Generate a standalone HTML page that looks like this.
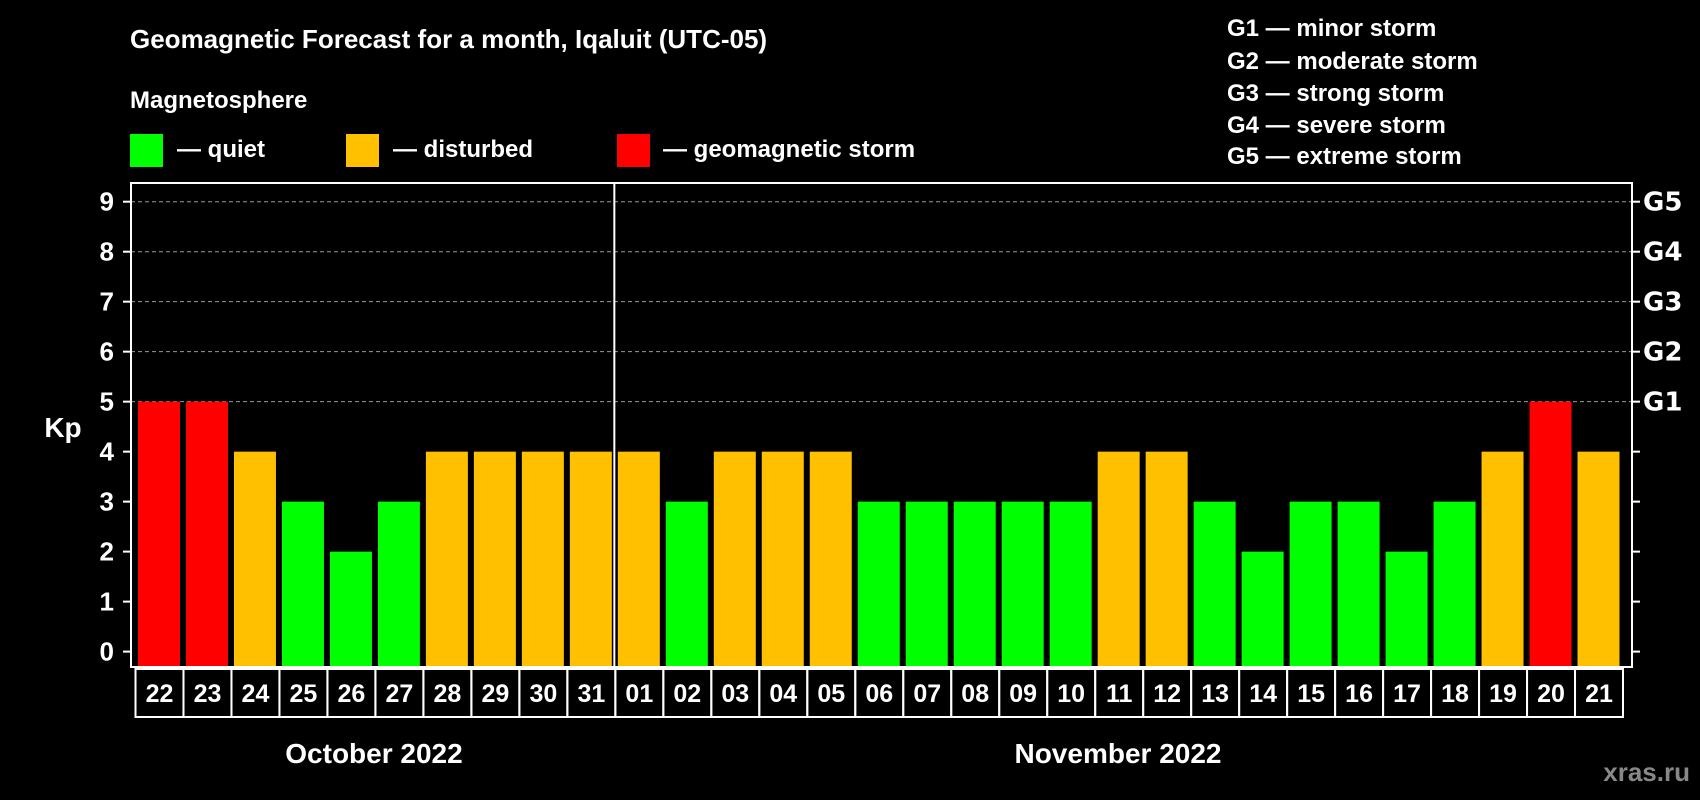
<!DOCTYPE html>
<html><head><meta charset="utf-8"><style>
html,body{margin:0;padding:0;background:#000;}
svg{display:block;font-family:"Liberation Sans",sans-serif;font-weight:bold;}
</style></head><body>
<svg id="chart" width="1700" height="800" viewBox="0 0 1700 800" xmlns="http://www.w3.org/2000/svg">
<rect width="1700" height="800" fill="#000"/>
<text x="130" y="48" fill="#fff" font-size="26">Geomagnetic Forecast for a month, Iqaluit (UTC-05)</text>
<text x="130" y="108" fill="#fff" font-size="24">Magnetosphere</text>
<g><rect x="130" y="134" width="33" height="33" fill="#00ff00"/><text x="177" y="157" fill="#fff" font-size="24">— quiet</text></g>
<g><rect x="346" y="134" width="33" height="33" fill="#ffc000"/><text x="393" y="157" fill="#fff" font-size="24">— disturbed</text></g>
<g><rect x="617" y="134" width="33" height="33" fill="#ff0000"/><text x="663" y="157" fill="#fff" font-size="24">— geomagnetic storm</text></g>
<g fill="#fff" font-size="24">
<text x="1227" y="36">G1 — minor storm</text>
<text x="1227" y="69">G2 — moderate storm</text>
<text x="1227" y="101">G3 — strong storm</text>
<text x="1227" y="133">G4 — severe storm</text>
<text x="1227" y="164">G5 — extreme storm</text>
</g>
<text x="63" y="437" fill="#fff" font-size="28" text-anchor="middle">Kp</text>
<g id="grid"></g><g id="bars"></g><g id="axes"></g><g id="xlabels"></g>
<text x="374" y="763" fill="#fff" font-size="28" text-anchor="middle">October 2022</text>
<text x="1118" y="763" fill="#fff" font-size="28" text-anchor="middle">November 2022</text>
<text x="1690" y="781" fill="#888" font-size="26" text-anchor="end">xras.ru</text>
</svg>
<script>
const days = ["22","23","24","25","26","27","28","29","30","31","01","02","03","04","05","06","07","08","09","10","11","12","13","14","15","16","17","18","19","20","21"];
const kp = [5,5,4,3,2,3,4,4,4,4,4,3,4,4,4,3,3,3,3,3,4,4,3,2,3,3,2,3,4,5,4];
const yTicks = ["0","1","2","3","4","5","6","7","8","9"];
const gLabels = ["G1","G2","G3","G4","G5"];
const NS="http://www.w3.org/2000/svg";
const L=131,R=1632,T=183,B=667,x0=135.5,pitch=(1623-135.5)/days.length;
function y(v){return 651.6-v*(651.6-201.7)/9;}
function x(i){return x0+i*pitch;}
function mk(tag,attrs,parent,txt){const e=document.createElementNS(NS,tag);for(const k in attrs)e.setAttribute(k,attrs[k]);if(txt!==undefined)e.textContent=txt;document.getElementById(parent).appendChild(e);return e;}
function col(v){return v>=5?"#ff0000":(v>=4?"#ffc000":"#00ff00");}
yTicks.forEach((t,i)=>{
  const v=+t;
  if(v>=5){const g=mk("line",{x1:L,x2:R,y1:y(v),y2:y(v),stroke:"#999","stroke-width":1,"stroke-dasharray":"4,3"},"grid");
  
  }
  const lt=mk("text",{x:114,y:y(v)+9,fill:"#fff","font-size":26,"text-anchor":"end"},"axes",t);
  
  
  mk("line",{x1:L-8,x2:L,y1:y(v),y2:y(v),stroke:"#fff","stroke-width":2},"axes");
  mk("line",{x1:R,x2:R+8,y1:y(v),y2:y(v),stroke:"#fff","stroke-width":2},"axes");
});
gLabels.forEach((g,i)=>{
  const t=mk("text",{x:1643,y:y(5+i)+9,fill:"#fff","font-size":26,"font-family":"DejaVu Sans, sans-serif"},"axes",g);
  
  
});
kp.forEach((v,i)=>{
  const r=mk("rect",{x:x(i)+2.5,y:y(v),width:pitch-6,height:B-1-y(v),fill:col(v)},"bars");
  
  
  const c=mk("rect",{x:x(i),y:669,width:pitch,height:48,fill:"none",stroke:"#fff","stroke-width":2},"xlabels");
  
  
  const t=mk("text",{x:x(i)+pitch/2,y:702,fill:"#fff","font-size":25,"text-anchor":"middle"},"xlabels",days[i]);
  
  
});
const f=mk("rect",{x:L,y:T,width:R-L,height:B-T,fill:"none",stroke:"#fff","stroke-width":2},"axes");


const di=days.indexOf("01");
const d=mk("line",{x1:x(di)-1,x2:x(di)-1,y1:T,y2:B,stroke:"#fff","stroke-width":2},"axes");


</script>
</body></html>
